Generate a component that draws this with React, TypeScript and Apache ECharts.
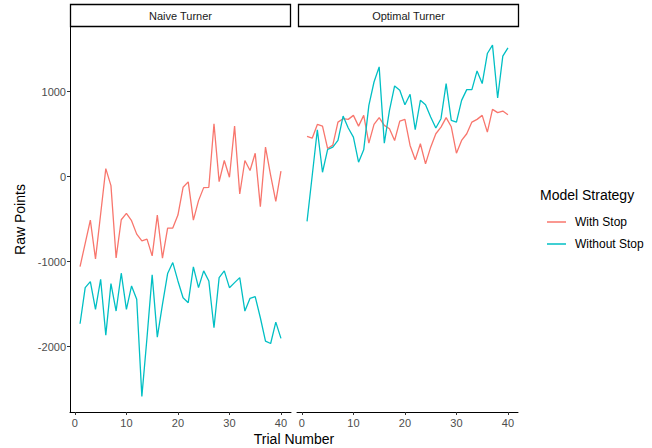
import React, { useEffect, useRef } from "react";
import * as echarts from "echarts";

const trials = Array.from({ length: 40 }, (_, i) => i + 1);

const naiveWithStop = [-1059, -785, -512, -970, -440, 94, -106, -956, -508, -433, -519, -677, -756, -736, -933, -453, -960, -606, -606, -453, -126, -62, -512, -283, -130, -126, 622, -59, 189, -8, 594, -205, 189, 71, 275, -354, 346, 15, -291, 63];
const naiveWithoutStop = [-1732, -1307, -1236, -1562, -1208, -1865, -1260, -1582, -1137, -1562, -1287, -1444, -2586, -1893, -1157, -1889, -1503, -1141, -1012, -1228, -1425, -1484, -1063, -1307, -1110, -1228, -1779, -1189, -1110, -1307, -1248, -1189, -1582, -1433, -1413, -1661, -1936, -1964, -1712, -1904];
const optimalWithStop = [472, 452, 614, 594, 330, 370, 641, 681, 673, 720, 594, 720, 393, 614, 693, 602, 563, 425, 653, 673, 366, 197, 386, 150, 346, 504, 582, 693, 586, 275, 425, 504, 641, 673, 720, 523, 791, 752, 771, 728];
const optimalWithoutStop = [-527, 10, 551, 51, 319, 346, 425, 712, 571, 464, 169, 315, 838, 1113, 1291, 393, 779, 1066, 1015, 846, 968, 551, 897, 846, 700, 571, 681, 1094, 661, 641, 897, 1023, 1023, 1243, 1094, 1448, 1547, 925, 1417, 1515];

const panelTitles = ["Naive Turner", "Optimal Turner"];
const seriesNames = ["With Stop", "Without Stop"];
const xTicks = [0, 10, 20, 30, 40];
const yTicks = [-2000, -1000, 0, 1000];

const RED = "#F8766D";
const CYAN = "#00BFC4";
const FONT = "Liberation Sans, Arial, sans-serif";

export default function App() {
  const ref = useRef<HTMLDivElement>(null);
  useEffect(() => {
    if (!ref.current) return;
    const chart = echarts.init(ref.current, null, { renderer: "svg" });
    const pair = (ys: number[]) => trials.map((t, i) => [t, ys[i]]);
    const grids = [
      { left: 70, top: 27, width: 221, height: 385 },
      { left: 297, top: 27, width: 221, height: 385 },
    ];
    const xAxisBase = (gi: number) => ({
      type: "value",
      gridIndex: gi,
      min: -0.95,
      max: 41.95,
      splitLine: { show: false },
      axisLine: { show: true, onZero: false, lineStyle: { color: "#000", width: 1 } },
      axisTick: { show: true, length: 3, customValues: xTicks, lineStyle: { color: "#333" } },
      axisLabel: { show: true, customValues: xTicks, color: "#4D4D4D", fontSize: 11, margin: 5, fontFamily: FONT, formatter: (v: number) => String(v) },
    });
    const yAxisBase = (gi: number) => ({
      type: "value",
      gridIndex: gi,
      min: -2770,
      max: 1760,
      splitLine: { show: false },
      axisLine: { show: gi === 0, onZero: false, lineStyle: { color: "#000", width: 1 } },
      axisTick: { show: gi === 0, length: 3, customValues: yTicks, lineStyle: { color: "#333" } },
      axisLabel: { show: gi === 0, customValues: yTicks, color: "#4D4D4D", fontSize: 11, margin: 4, fontFamily: FONT, formatter: (v: number) => String(v) },
      name: gi === 0 ? "Raw Points" : "",
      nameLocation: "middle",
      nameGap: 43,
      nameTextStyle: { color: "#000", fontSize: 14, fontFamily: FONT },
    });
    const line = (name: string, gi: number, ys: number[], color: string) => ({
      type: "line",
      name,
      xAxisIndex: gi,
      yAxisIndex: gi,
      data: pair(ys),
      showSymbol: false,
      symbol: "none",
      lineStyle: { color, width: 1.3 },
      itemStyle: { color },
    });
    chart.setOption({
      animation: false,
      backgroundColor: "#fff",
      grid: grids,
      xAxis: [xAxisBase(0), xAxisBase(1)],
      yAxis: [yAxisBase(0), yAxisBase(1)],
      series: [
        line(seriesNames[0], 0, naiveWithStop, RED),
        line(seriesNames[1], 0, naiveWithoutStop, CYAN),
        line(seriesNames[0], 1, optimalWithStop, RED),
        line(seriesNames[1], 1, optimalWithoutStop, CYAN),
      ],
      legend: {
        data: seriesNames,
        orient: "vertical",
        left: 542,
        top: 211,
        icon: "rect",
        itemWidth: 19,
        itemHeight: 1.5,
        itemGap: 10,
        textStyle: { color: "#000", fontSize: 12, fontFamily: FONT, padding: [0, 0, 0, 4] },
      },
      graphic: [
        { type: "rect", shape: { x: 70.5, y: 4.5, width: 220, height: 22 }, style: { fill: "#fff", stroke: "#000", lineWidth: 1.3 } },
        { type: "rect", shape: { x: 298.5, y: 4.5, width: 220, height: 22 }, style: { fill: "#fff", stroke: "#000", lineWidth: 1.3 } },
        { type: "text", x: 180.5, y: 16, style: { text: panelTitles[0], fill: "#1A1A1A", fontSize: 11, fontFamily: FONT, align: "center", verticalAlign: "middle" } },
        { type: "text", x: 408.5, y: 16, style: { text: panelTitles[1], fill: "#1A1A1A", fontSize: 11, fontFamily: FONT, align: "center", verticalAlign: "middle" } },
        { type: "text", x: 294, y: 439, style: { text: "Trial Number", fill: "#000", fontSize: 14, fontFamily: FONT, align: "center", verticalAlign: "middle" } },
        { type: "text", x: 540, y: 195, style: { text: "Model Strategy", fill: "#000", fontSize: 14, fontFamily: FONT, align: "left", verticalAlign: "middle" } },
      ],
    });
    return () => chart.dispose();
  }, []);
  return <div ref={ref} style={{ width: 652, height: 448, position: "absolute", left: 0, top: 0 }} />;
}
